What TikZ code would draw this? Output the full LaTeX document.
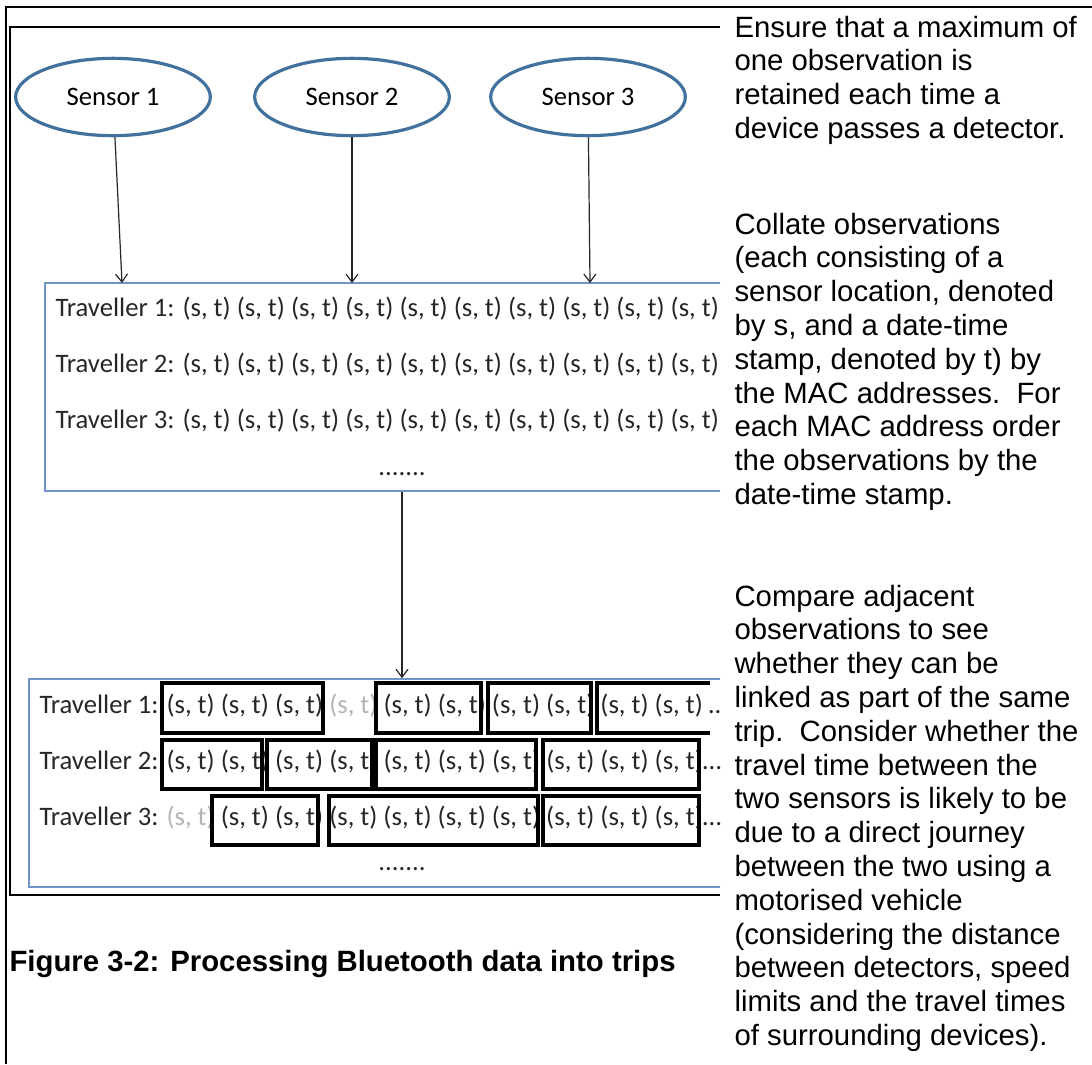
\documentclass[tikz,border=0pt]{standalone}
\usepackage{fontspec}
\setmainfont{Liberation Sans}
\newfontfamily\calibri{Carlito}
\usepackage{tikz}
\usetikzlibrary{arrows.meta,shapes.geometric,fit}

\definecolor{sensorblue}{HTML}{41719C}
\definecolor{boxblue}{HTML}{7094C8}
\definecolor{faded}{HTML}{B4B4B4}
\newcommand{\obs}{(s, t)}

\begin{document}
\begin{tikzpicture}[x=0.375pt, y=-0.375pt]
        \tikzset{sensor/.style = {shape=ellipse, draw=sensorblue, line width=1.2pt, minimum width=73pt, minimum height=29pt, inner sep=0pt, font=\calibri\fontsize{10}{12}\selectfont}}
        \tikzset{edge/.style = {-{Straight Barb[length=3pt,width=4.5pt]}, draw=black!85, line width=0.45pt}}
        \tikzset{box/.style = {draw=boxblue, line width=0.6pt, inner sep=0pt}}
        \tikzset{row/.style = {anchor=base west, inner sep=0pt, text=black!85, font=\calibri\fontsize{10}{12}\selectfont}}
        \tikzset{trip/.style = {draw=black, line width=1.2pt}}
        % base of a note = baseline of its last line
        \tikzset{note/.style = {anchor=base west, inner sep=0pt, align=left, font=\fontsize{11}{12.675}\selectfont}}
        \useasboundingbox (0,0) rectangle (1092,1064);
        % frames
        \draw[line width=0.6pt] (1092,7) -- (6,7) -- (6,1064);
        \draw[line width=0.6pt] (720,27) -- (10,27) -- (10,895) -- (720,895);
        % sensors
        \node[sensor] (sensor1) at (113,97) {Sensor 1};
        \node[sensor] (sensor2) at (352,97) {Sensor 2};
        \node[sensor] (sensor3) at (588,97) {Sensor 3};
        \begin{scope}
        \clip (0,0) rectangle (720,1064);
        % collated observations
        \node[box, fit={(45,283) (760,491)}] (collate) {};
        \node[row] (col1) at (55,316) {Traveller 1: \obs{} \obs{} \obs{} \obs{} \obs{} \obs{} \obs{} \obs{} \obs{} \obs{} \ldots};
        \node[row] (col2) at (55,372) {Traveller 2: \obs{} \obs{} \obs{} \obs{} \obs{} \obs{} \obs{} \obs{} \obs{} \obs{} \ldots};
        \node[row] (col3) at (55,428) {Traveller 3: \obs{} \obs{} \obs{} \obs{} \obs{} \obs{} \obs{} \obs{} \obs{} \obs{} \ldots};
        \node[row, anchor=base] (coldots) at (402,475) {.......};
        % trips
        \node[box, fit={(29,679) (760,887)}] (trips) {};
        \node[row] (trip1) at (39,713) {Traveller 1: \obs{} \obs{} \obs{} \textcolor{faded}{\obs} \obs{} \obs{} \obs{} \obs{} \obs{} \obs{} \ldots};
        \node[row] (trip2) at (39,769) {Traveller 2: \obs{} \obs{} \obs{} \obs{} \obs{} \obs{} \obs{} \obs{} \obs{} \obs{}\ldots};
        \node[row] (trip3) at (39,825) {Traveller 3: \textcolor{faded}{\obs} \obs{} \obs{} \obs{} \obs{} \obs{} \obs{} \obs{} \obs{} \obs{}\ldots};
        \node[row, anchor=base] (tripdots) at (402,870) {.......};
        \foreach \a/\b in {162/323, 376/481, 488/591}
            \draw[trip] (\a,683) rectangle (\b,733);
        \draw[trip] (710,683) -- (597,683) -- (597,733) -- (710,733);
        \foreach \a/\b in {162/262, 267/372, 376/536, 543/699}
            \draw[trip] (\a,740) rectangle (\b,789);
        \foreach \a/\b in {212/318, 329/538, 543/699}
            \draw[trip] (\a,796) rectangle (\b,845);
        \end{scope}
        % edges
        \coordinate (in1) at (122,283);
        \coordinate (in2) at (352,283);
        \coordinate (in3) at (590,283);
        \draw[edge] (sensor1) -- (in1);
        \draw[edge] (sensor2) -- (in2);
        \draw[edge] (sensor3) -- (in3);
        \draw[edge] (collate.south -| coldots) -- (trips.north -| coldots);
        % caption and notes
        \node[anchor=base west, inner sep=0pt, font=\bfseries\fontsize{11}{13}\selectfont] (caption) at (9,971) {Figure 3-2: Processing Bluetooth data into trips};
        \node[note] (note1) at (734,138.4) {Ensure that a maximum of\\one observation is\\retained each time a\\device passes a detector.};
        \node[note] (note2) at (734,504.4) {Collate observations\\(each consisting of a\\sensor location, denoted\\by s, and a date-time\\stamp, denoted by t) by\\the MAC addresses.\ \ For\\each MAC address order\\the observations by the\\date-time stamp.};
        \node[note] (note3) at (734,1045.4) {Compare adjacent\\observations to see\\whether they can be\\linked as part of the same\\trip.\ \ Consider whether the\\travel time between the\\two sensors is likely to be\\due to a direct journey\\between the two using a\\motorised vehicle\\(considering the distance\\between detectors, speed\\limits and the travel times\\of surrounding devices).};
\end{tikzpicture}
\end{document}
